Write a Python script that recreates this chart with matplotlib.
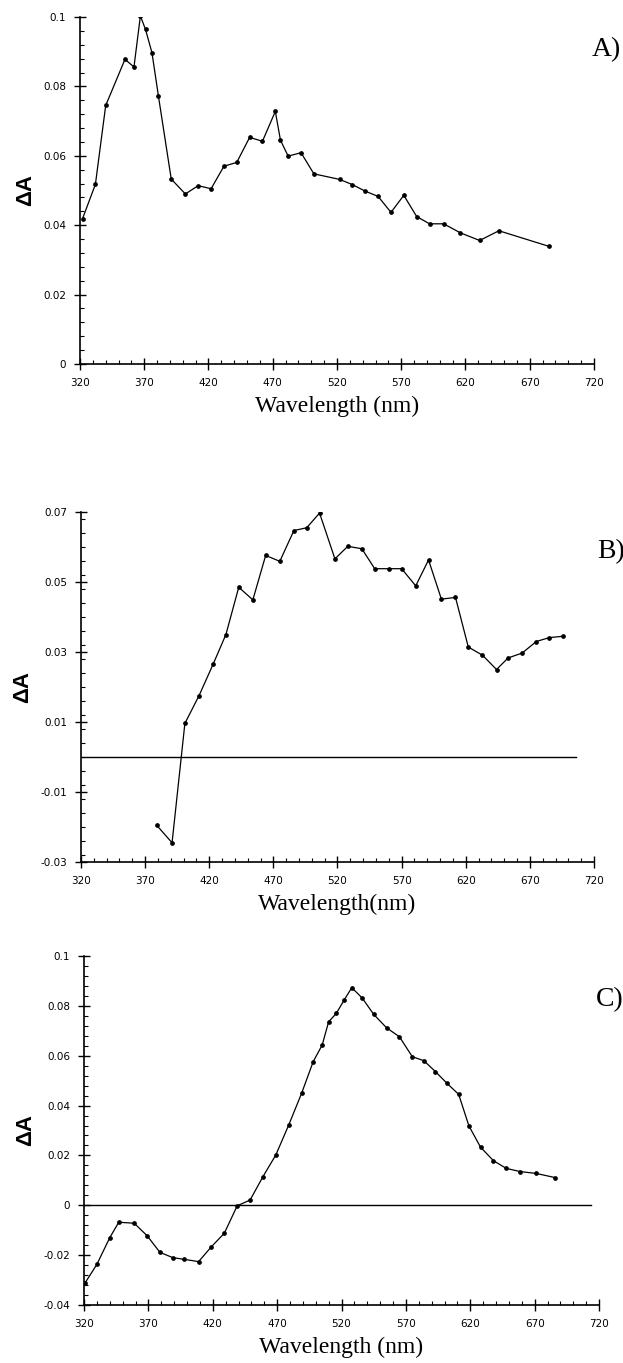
import numpy as np
import matplotlib
matplotlib.use("Agg")
import matplotlib.pyplot as plt
from matplotlib.ticker import MultipleLocator, FuncFormatter

# panel A
wl_a = [322, 332, 340, 355, 362, 367, 371, 376, 381, 391, 402, 412, 422, 432, 442,
        452, 462, 472, 476, 482, 492, 502, 522, 532, 542, 552, 562, 572, 582, 592,
        603, 616, 631, 646, 685]
da_a = [0.0419, 0.0518, 0.0745, 0.0878, 0.0856, 0.1003, 0.0964, 0.0897, 0.0773, 0.0533,
        0.0490, 0.0514, 0.0505, 0.0570, 0.0581, 0.0653, 0.0642, 0.0728, 0.0645, 0.0599,
        0.0609, 0.0548, 0.0532, 0.0517, 0.0498, 0.0483, 0.0437, 0.0486, 0.0425, 0.0404,
        0.0404, 0.0378, 0.0356, 0.0384, 0.0339]

# panel B
wl_b = [379, 391, 401, 412, 423, 433, 443, 454, 464, 475, 486, 496, 506, 518, 528,
        539, 549, 560, 570, 581, 591, 601, 612, 622, 633, 644, 653, 664, 675, 685, 696]
da_b = [-0.0195, -0.0245, 0.0096, 0.0175, 0.0265, 0.0350, 0.0485, 0.0449, 0.0576, 0.0559,
        0.0647, 0.0655, 0.0697, 0.0566, 0.0602, 0.0595, 0.0538, 0.0538, 0.0538, 0.0489,
        0.0563, 0.0451, 0.0456, 0.0314, 0.0291, 0.0250, 0.0283, 0.0297, 0.0330, 0.0341,
        0.0345]

# panel C
wl_c = [321, 330, 340, 347, 359, 369, 379, 389, 398, 409, 419, 429, 439, 449, 459,
        469, 479, 489, 498, 505, 510, 516, 522, 528, 536, 545, 555, 565, 575, 584,
        593, 602, 611, 619, 628, 638, 648, 659, 671, 686]
da_c = [-0.031, -0.0237, -0.0130, -0.0068, -0.0072, -0.0122, -0.0189, -0.0210, -0.0217, -0.0226,
        -0.0166, -0.0112, -0.0002, 0.0021, 0.0115, 0.0202, 0.0322, 0.0449, 0.0576, 0.0643,
        0.0736, 0.0770, 0.0823, 0.0873, 0.0832, 0.0766, 0.0712, 0.0676, 0.0596, 0.0580,
        0.0536, 0.0489, 0.0445, 0.0318, 0.0233, 0.0179, 0.0148, 0.0135, 0.0128, 0.0111]

xticks = [320, 370, 420, 470, 520, 570, 620, 670, 720]

W, H = 623, 1363
fig = plt.figure(figsize=(W / 100, H / 100), dpi=100)


def box(left, right, top, bottom):
    return [left / W, 1 - bottom / H, (right - left) / W, (bottom - top) / H]


def fmt(v, pos):
    if abs(v) < 1e-9:
        return "0"
    s = f"{v:.2f}"
    if s.endswith("0"):
        s = s[:-1]
    return s


panels = [
    (box(80, 594, 17, 364), wl_a, da_a, (0, 0.1), [0, 0.02, 0.04, 0.06, 0.08, 0.1],
     "Wavelength (nm)", None),
    (box(81, 594, 512, 862), wl_b, da_b, (-0.03, 0.07), [-0.03, -0.01, 0.01, 0.03, 0.05, 0.07],
     "Wavelength(nm)", 0.965),
    (box(84, 599, 956, 1305), wl_c, da_c, (-0.04, 0.1), [-0.04, -0.02, 0, 0.02, 0.04, 0.06, 0.08, 0.1],
     "Wavelength (nm)", 0.985),
]

for pos, wl, da, ylim, yt, xlab, zero_end in panels:
    ax = fig.add_axes(pos)
    ax.plot(wl, da, color="black", lw=0.9, marker="o", ms=2.4)
    if zero_end:
        ax.axhline(0, xmin=0, xmax=zero_end, color="black", lw=1.0)
    ax.set_xlim(320, 720)
    ax.set_ylim(*ylim)
    ax.set_xticks(xticks)
    ax.set_yticks(yt)
    ax.yaxis.set_major_formatter(FuncFormatter(fmt))
    ax.xaxis.set_minor_locator(MultipleLocator(10))
    ax.yaxis.set_minor_locator(MultipleLocator(0.004))
    for s in ["top", "right"]:
        ax.spines[s].set_visible(False)
    for s in ["left", "bottom"]:
        ax.spines[s].set_linewidth(1.2)
    ax.tick_params(which="major", direction="inout", length=8, width=1.0,
                   labelsize=7.5, pad=6)
    ax.tick_params(which="minor", direction="in", length=3, width=0.8)
    ax.set_xlabel(xlab, family="Liberation Serif", fontsize=17, labelpad=6)
    ax.set_ylabel("ΔA", family="Liberation Sans", fontweight="bold", fontsize=16, labelpad=5)

# panel tags
fig.text(592 / W, 1 - 50 / H, "A)", family="Liberation Serif", fontsize=20, va="center")
fig.text(597 / W, 1 - 552 / H, "B)", family="Liberation Serif", fontsize=20, va="center")
fig.text(596 / W, 1 - 1000 / H, "C)", family="Liberation Serif", fontsize=20, va="center")

fig.savefig("out.png", dpi=100, facecolor="white")
